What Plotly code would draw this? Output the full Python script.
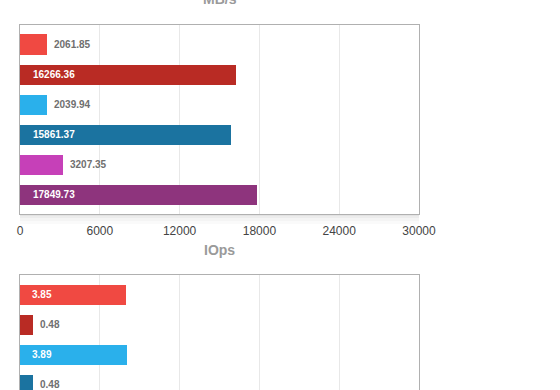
import plotly.graph_objects as go

# ---- data ----
mbs_categories = ["Run 1", "Run 2", "Run 3", "Run 4", "Run 5", "Run 6"]
mbs_values = [2061.85, 16266.36, 2039.94, 15861.37, 3207.35, 17849.73]
mbs_ticks = [0, 6000, 12000, 18000, 24000, 30000]

iops_categories = ["Run 1", "Run 2", "Run 3", "Run 4"]
iops_values = [3.85, 0.48, 3.89, 0.48]
iops_max = 14.5

bar_colors = ["#F04942", "#B92B24", "#2AB0EB", "#1B73A0", "#C640B8", "#8E347D"]

W = 560
H = 390.0
FONT = "Liberation Sans, Arial, Helvetica, sans-serif"

def py(p):
    return 1 - p / H

fig = go.Figure()
fig.add_trace(go.Bar(x=mbs_values, y=mbs_categories, orientation="h",
                     marker=dict(color=bar_colors[:len(mbs_values)], line=dict(width=0)),
                     width=0.667, xaxis="x", yaxis="y", hoverinfo="x"))
fig.add_trace(go.Bar(x=iops_values, y=iops_categories, orientation="h",
                     marker=dict(color=bar_colors[:len(iops_values)], line=dict(width=0)),
                     width=0.667, xaxis="x2", yaxis="y2", hoverinfo="x"))

ann = []
def labels(vals, cats, xr, yr, vmax, inshift):
    for v, c in zip(vals, cats):
        inside = v > 0.2 * vmax
        ann.append(dict(x=0 if inside else v, y=c, xref=xr, yref=yr,
                        text=f"{v:.2f}", showarrow=False, xanchor="left",
                        xshift=inshift if inside else 5,
                        font=dict(family=FONT, size=10,
                                  color="#ffffff" if inside else "#6f6f6f",
                                  weight="bold")))

labels(mbs_values, mbs_categories, "x", "y", mbs_ticks[-1], 11)
labels(iops_values, iops_categories, "x2", "y2", iops_max, 10)

ann.append(dict(text="MB/s", x=0.5, y=py(-1), xref="paper", yref="paper",
                showarrow=False, yanchor="middle",
                font=dict(family=FONT, size=14, color="#9a9a9a", weight="bold")))
ann.append(dict(text="IOps", x=0.5, y=py(250), xref="paper", yref="paper",
                showarrow=False, yanchor="middle",
                font=dict(family=FONT, size=14, color="#9a9a9a", weight="bold")))

shapes = []
for h, op in [(2, 0.035), (4, 0.03), (7, 0.025), (10, 0.02)]:
    shapes.append(dict(type="rect", xref="paper", yref="paper", x0=0.0, x1=1.0,
                       y0=py(214 + h), y1=py(214), line=dict(width=0),
                       fillcolor=f"rgba(0,0,0,{op})", layer="below"))

axis_common = dict(showgrid=True, gridcolor="#e8e8e8", gridwidth=1, zeroline=False,
                   showline=True, linecolor="#b0b0b0", linewidth=1, ticks="")

fig.update_layout(
    width=W, height=H,
    margin=dict(l=20, r=W - 419, t=0, b=0),
    paper_bgcolor="white", plot_bgcolor="white",
    showlegend=False, bargap=0,
    font=dict(family=FONT),
    xaxis=dict(axis_common, domain=[0, 1], range=[0, mbs_ticks[-1]], tickvals=mbs_ticks,
               ticktext=[str(t) for t in mbs_ticks], mirror=True, anchor="y",
               ticklabelstandoff=6,
               tickfont=dict(family=FONT, size=12, color="#444444")),
    yaxis=dict(axis_common, domain=[py(214), py(25)], range=[5.65, -0.65],
               showgrid=False, showticklabels=False, mirror=True, anchor="x"),
    xaxis2=dict(axis_common, domain=[0, 1], range=[0, iops_max],
                tickvals=[iops_max * i / 5 for i in range(6)], anchor="y2",
                side="top", showticklabels=False, mirror=False),
    yaxis2=dict(axis_common, domain=[0, py(275)], range=[3.183, -0.65],
                showgrid=False, showticklabels=False, mirror=True, anchor="x2"),
    annotations=ann, shapes=shapes,
)

fig.write_html("out.html", config={"displayModeBar": False},
               post_script="document.body.style.margin='0';document.body.style.overflow='hidden';")
